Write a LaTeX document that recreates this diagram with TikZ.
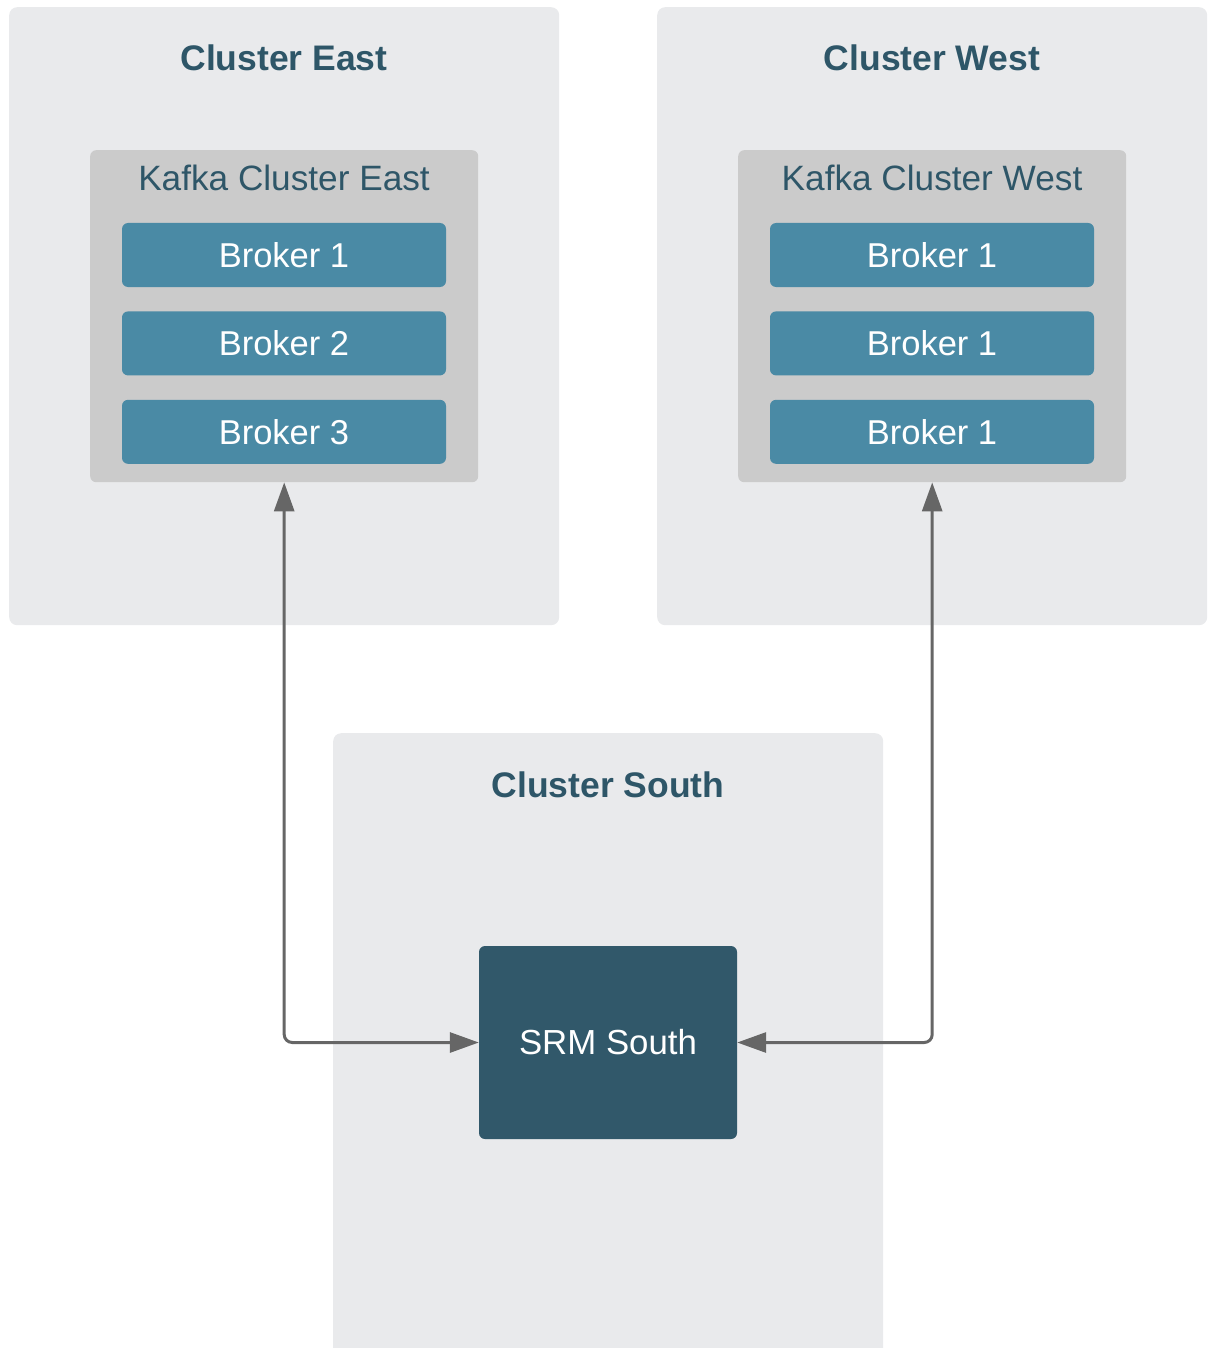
\documentclass[tikz,border=0pt]{standalone}
\usepackage{fontspec}
\setmainfont{Liberation Sans}
\usetikzlibrary{positioning,arrows.meta}
\definecolor{panelgray}{HTML}{E9EAEC}
\definecolor{kafkagray}{HTML}{CBCBCB}
\definecolor{titleblue}{HTML}{2E5668}
\definecolor{brokerblue}{HTML}{4A8AA5}
\definecolor{srmblue}{HTML}{31586A}
\definecolor{linkgray}{HTML}{666666}
\begin{document}
\begin{tikzpicture}[x=1pt,y=-1pt]
	\tikzstyle{every node}+=[inner sep=0pt]
	\tikzstyle{cluster}=[fill=panelgray, rounded corners=8pt, minimum width=550pt, anchor=north west]
	\tikzstyle{title}=[text=titleblue, font=\fontsize{35.5}{42}\selectfont\bfseries]
	\tikzstyle{kafka}=[fill=kafkagray, rounded corners=6pt, minimum width=388pt, minimum height=332pt, anchor=north west]
	\tikzstyle{kafkatitle}=[text=titleblue, font=\fontsize{35.2}{40}\selectfont]
	\tikzstyle{broker}=[fill=brokerblue, rounded corners=6pt, minimum width=324pt, minimum height=64pt, text=white, font=\fontsize{34.5}{40}\selectfont]
	\tikzstyle{srmbox}=[fill=srmblue, rounded corners=6pt, minimum width=258pt, minimum height=193pt, text=white, font=\fontsize{34.8}{40}\selectfont]
	\tikzstyle{link}=[draw=linkgray, line width=3pt, rounded corners=8pt, {Triangle[length=29pt,width=20pt]}-{Triangle[length=29pt,width=20pt]}]
	\clip (0,0) rectangle (1209,1348);
	% outer panels
	\node[cluster, minimum height=618pt] (east) at (9,7) {};
	\node[cluster, minimum height=618pt] (west) at (657,7) {};
	\node[cluster, minimum height=640pt] (south) at (333,733) {};
	\node[title] (eastTitle) at (284,58) {Cluster East};
	\node[title] (westTitle) at (932,58) {Cluster West};
	\node[title] (southTitle) at (608,785) {Cluster South};
	% kafka clusters
	\node[kafka] (kEast) at (90,150) {};
	\node[kafka] (kWest) at (738,150) {};
	\node[kafkatitle] (kEastTitle) at (284,178) {Kafka Cluster East};
	\node[kafkatitle] (kWestTitle) at (932,178) {Kafka Cluster West};
	\node[broker] (e1) at (284,255) {Broker 1};
	\node[broker, below=24pt of e1] (e2) {Broker 2};
	\node[broker, below=24pt of e2] (e3) {Broker 3};
	\node[broker] (w1) at (932,255) {Broker 1};
	\node[broker, below=24pt of w1] (w2) {Broker 1};
	\node[broker, below=24pt of w2] (w3) {Broker 1};
	% replication manager
	\node[srmbox] (srm) at (608,1042.5) {SRM South};
	\draw[link] (kEast.south) -- (kEast.south |- srm.west) -- (srm.west);
	\draw[link] (kWest.south) -- (kWest.south |- srm.east) -- (srm.east);
\end{tikzpicture}
\end{document}
